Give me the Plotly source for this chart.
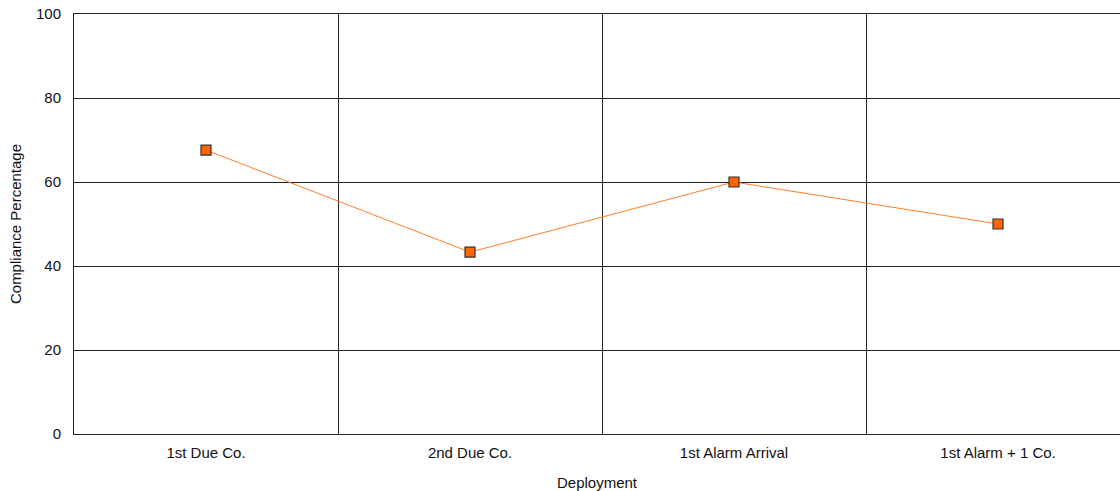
import plotly.graph_objects as go

# Deployment categories and compliance values (%)
categories = ["1st Due Co.", "2nd Due Co.", "1st Alarm Arrival", "1st Alarm + 1 Co."]
compliance = [67.6, 43.3, 60.0, 50.0]
y_ticks = [0, 20, 40, 60, 80, 100]

fig = go.Figure()
fig.add_trace(go.Scatter(
    x=categories,
    y=compliance,
    mode="lines+markers",
    line=dict(color="#FF7F27", width=1),
    marker=dict(symbol="square", size=10, color="#FF6600",
                line=dict(color="#333333", width=1.2)),
    showlegend=False,
))

font = dict(family="Liberation Sans, Arial, sans-serif", size=15, color="#111111")

fig.update_layout(
    width=1120, height=491,
    margin=dict(l=74, r=0, t=14, b=57),
    paper_bgcolor="white",
    plot_bgcolor="white",
    font=font,
    xaxis=dict(
        type="category",
        range=[-0.5, 3.462],
        tickson="boundaries",
        automargin=False,
        showgrid=True, gridcolor="#222222", gridwidth=1,
        showline=True, linecolor="#222222", linewidth=1, mirror=True,
        ticks="", ticklabelstandoff=5,
        title=dict(text="Deployment", standoff=18, font=font),
        zeroline=False,
    ),
    yaxis=dict(
        range=[0, 100],
        tickvals=y_ticks,
        automargin=False,
        showgrid=True, gridcolor="#222222", gridwidth=1,
        showline=True, linecolor="#222222", linewidth=1,
        ticks="outside", ticklen=9, tickcolor="rgba(0,0,0,0)",
        title=dict(text="Compliance Percentage", standoff=10, font=font),
        zeroline=False,
    ),
)

fig.write_html("out.html")
